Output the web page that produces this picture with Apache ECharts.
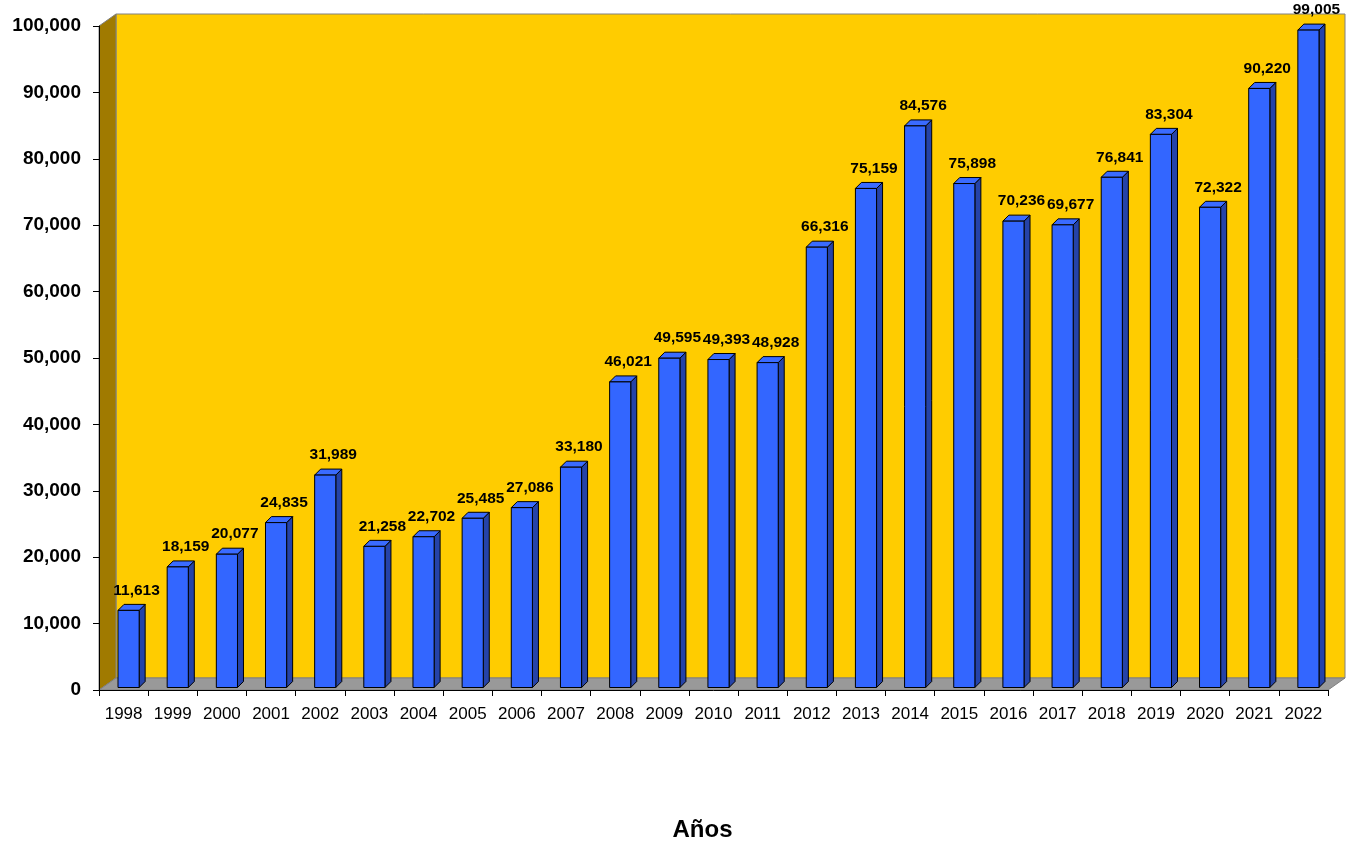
<!DOCTYPE html>
<html>
<head>
<meta charset="utf-8">
<script src="https://cdn.jsdelivr.net/npm/echarts@6/dist/echarts.min.js"></script>
<style>
html,body{margin:0;padding:0;background:#fff;}
#chart{width:1355px;height:844px;}
</style>
</head>
<body>
<div id="chart"></div>
<script>
const categories = ['1998','1999','2000','2001','2002','2003','2004','2005','2006','2007','2008','2009','2010','2011','2012','2013','2014','2015','2016','2017','2018','2019','2020','2021','2022'];
const values = [11613, 18159, 20077, 24835, 31989, 21258, 22702, 25485, 27086, 33180, 46021, 49595, 49393, 48928, 66316, 75159, 84576, 75898, 70236, 69677, 76841, 83304, 72322, 90220, 99005];
const yTicks = { min: 0, max: 100000, interval: 10000 };
const xName = 'Años';

const FONT = '"Liberation Sans", Arial, sans-serif';
const DX = 17, DY = -12;        // wall depth
const BDX = 6, BDY = -6;        // bar depth
const fmt = v => String(v).replace(/\B(?=(\d{3})+(?!\d))/g, ',');

const chart = echarts.init(document.getElementById('chart'), null, { renderer: 'canvas' });

function renderWalls(params, api) {
  const cs = params.coordSys;
  const x0 = cs.x, y0 = cs.y, x1 = cs.x + cs.width, y1 = cs.y + cs.height;
  const stroke = '#808080';
  return {
    type: 'group',
    children: [
      { type: 'rect', shape: { x: x0 + DX, y: y0 + DY, width: cs.width, height: cs.height },
        style: { fill: '#FFCC00', stroke: stroke, lineWidth: 1 } },
      { type: 'polygon', shape: { points: [[x0, y0], [x0 + DX, y0 + DY], [x0 + DX, y1 + DY], [x0, y1]] },
        style: { fill: '#A07A00', stroke: stroke, lineWidth: 1 } },
      { type: 'polygon', shape: { points: [[x0, y1], [x0 + DX, y1 + DY], [x1 + DX, y1 + DY], [x1, y1]] },
        style: { fill: '#999999', stroke: stroke, lineWidth: 1 } }
    ]
  };
}

function renderBar(params, api) {
  const idx = api.value(0);
  const val = api.value(1);
  const top = api.coord([idx, val]);
  const base = api.coord([idx, 0]);
  const catW = api.size([1, 0])[0];
  const w = catW * 0.43;
  const cx = top[0] + 5;
  const l = cx - w / 2, r = cx + w / 2;
  const t = top[1] - 2.5, b = base[1] - 2.5;
  const lineStyle = { stroke: '#000', lineWidth: 1 };
  return {
    type: 'group',
    children: [
      { type: 'polygon', shape: { points: [[r, t], [r + BDX, t + BDY], [r + BDX, b + BDY], [r, b]] },
        style: Object.assign({ fill: '#2543A8' }, lineStyle) },
      { type: 'polygon', shape: { points: [[l, t], [l + BDX, t + BDY], [r + BDX, t + BDY], [r, t]] },
        style: Object.assign({ fill: '#3A6BFF' }, lineStyle) },
      { type: 'rect', shape: { x: l, y: t, width: w, height: b - t },
        style: Object.assign({ fill: '#3366FF' }, lineStyle) },
      { type: 'text', x: cx + 8, y: t - 20,
        style: { text: fmt(val), fill: '#000', font: 'bold 15.5px ' + FONT, align: 'center', verticalAlign: 'middle' } }
    ]
  };
}

chart.setOption({
  animation: false,
  backgroundColor: '#ffffff',
  grid: { left: 99, right: 27, top: 26, bottom: 154, containLabel: false, outerBoundsMode: 'none' },
  xAxis: {
    type: 'category',
    data: categories,
    boundaryGap: true,
    name: xName,
    nameLocation: 'middle',
    nameGap: 128,
    nameTextStyle: { fontFamily: FONT, fontWeight: 'bold', fontSize: 24, color: '#000', padding: [0, 22, 0, 0] },
    axisLine: { show: true, lineStyle: { color: '#000', width: 1 } },
    axisTick: { show: true, length: 6, lineStyle: { color: '#000' } },
    axisLabel: { margin: 16, fontFamily: FONT, fontSize: 17, color: '#000', interval: 0 },
    splitLine: { show: false }
  },
  yAxis: {
    type: 'value',
    min: yTicks.min, max: yTicks.max, interval: yTicks.interval,
    axisLine: { show: true, lineStyle: { color: '#000', width: 1 } },
    axisTick: { show: true, length: 6, lineStyle: { color: '#000' } },
    axisLabel: { margin: 18, fontFamily: FONT, fontSize: 19, fontWeight: 'bold', color: '#000',
      formatter: v => fmt(v) },
    splitLine: { show: false }
  },
  series: [
    { type: 'custom', name: 'walls', z: -1, silent: true, data: [[0, 0]], renderItem: renderWalls },
    { type: 'custom', name: 'Años', z: 3, data: values.map((v, i) => [i, v]), renderItem: renderBar,
      encode: { x: 0, y: 1 }, clip: false }
  ]
});
</script>
</body>
</html>
